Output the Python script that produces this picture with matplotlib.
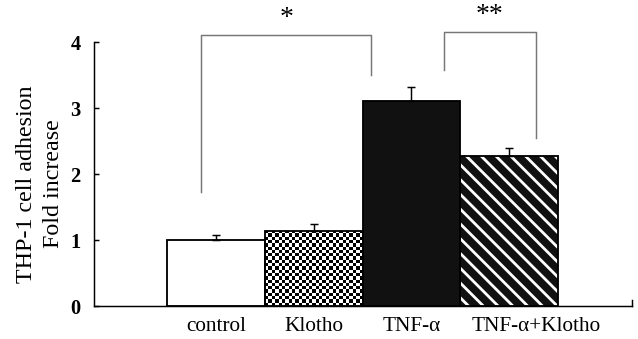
import numpy as np
import matplotlib
matplotlib.use("Agg")
import matplotlib.pyplot as plt
import matplotlib.transforms as mtransforms

groups = ["control", "Klotho", "TNF-\u03b1", "TNF-\u03b1+Klotho"]
fold = [1.00, 1.14, 3.10, 2.27]
err = [0.07, 0.10, 0.22, 0.12]
yticks = [0, 1, 2, 3, 4]

# significance brackets
sig_left = [-0.15, 2.33]
sig_right = [1.59, 3.27]
sig_top = [4.10, 4.15]
sig_foot_l = [1.73, 3.58]
sig_foot_r = [3.50, 2.55]
sig_text = ["*", "**"]

DPI = 133
plt.rcParams.update({
    "font.family": ["Liberation Serif", "DejaVu Serif"],
    "font.size": 11,
    "hatch.linewidth": 1.5,
})

fig = plt.figure(figsize=(638 / DPI, 339 / DPI), dpi=DPI)
ax = fig.add_axes([0.147, 0.097, 0.844, 0.779])

x = np.arange(len(groups))
face = ["white", "white", "#111111", "#111111"]
bars = ax.bar(x, fold, width=1.0, color=face, linewidth=0, zorder=2)
bars[3].set_edgecolor("white")
bars[3].set_hatch("\\\\\\")
bars[3].set_linewidth(0)

# checkerboard fill for Klotho
kb = bars[1]
x0, y0, w, h = kb.get_x(), kb.get_y(), kb.get_width(), kb.get_height()
nx = int(round(w / 0.034))
ny = int(round(h / 0.05))
checker = np.indices((ny, nx)).sum(axis=0) % 2
im = ax.imshow(checker, cmap="gray", extent=(x0, x0 + w, y0, y0 + h),
               interpolation="nearest", aspect="auto", zorder=2.1)
im.set_clip_path(kb)

# outlines
ax.bar(x, fold, width=1.0, fill=False, edgecolor="black", linewidth=1.0, zorder=3)

ax.errorbar(x, fold, yerr=[np.zeros(len(err)), err], fmt="none", ecolor="black",
            elinewidth=0.8, capsize=2.2, capthick=0.8, zorder=4)

for xl, xr, top, fl, fr, t in zip(sig_left, sig_right, sig_top, sig_foot_l, sig_foot_r, sig_text):
    ax.plot([xl, xl, xr, xr], [fl, top, top, fr], color="#777777", lw=0.8,
            clip_on=False, zorder=1)
    ax.text((xl + xr) / 2, top + 0.06, t, ha="center", va="bottom", fontsize=15,
            clip_on=False)

ax.set_xlim(-1.25, 4.26)
ax.set_ylim(0, 4)
ax.set_yticks(yticks)
ax.set_yticklabels([str(v) for v in yticks], fontweight="bold", fontsize=11)
ax.set_xticks(x)
ax.set_xticklabels(groups, fontsize=11.5)
ax.tick_params(axis="x", length=0, pad=6)
ax.tick_params(axis="y", direction="in", length=2.5, width=0.8, pad=7)
# last label sits right of its bar in the original
last = ax.get_xticklabels()[-1]
last.set_transform(last.get_transform() + mtransforms.ScaledTranslation(27 / DPI, 0, fig.dpi_scale_trans))

ax.spines["top"].set_visible(False)
ax.spines["right"].set_visible(False)
ax.spines["left"].set_linewidth(0.8)
ax.spines["bottom"].set_linewidth(0.8)
ax.plot([1, 1], [0, 0.025], transform=ax.transAxes, color="black", lw=0.8, clip_on=False)

ax.set_ylabel("THP-1 cell adhesion\nFold increase", fontsize=13, linespacing=1.4)
ax.yaxis.label.set_verticalalignment("center")
ax.yaxis.set_label_coords(-0.1, 0.462)

fig.savefig("out.png", dpi=DPI)
